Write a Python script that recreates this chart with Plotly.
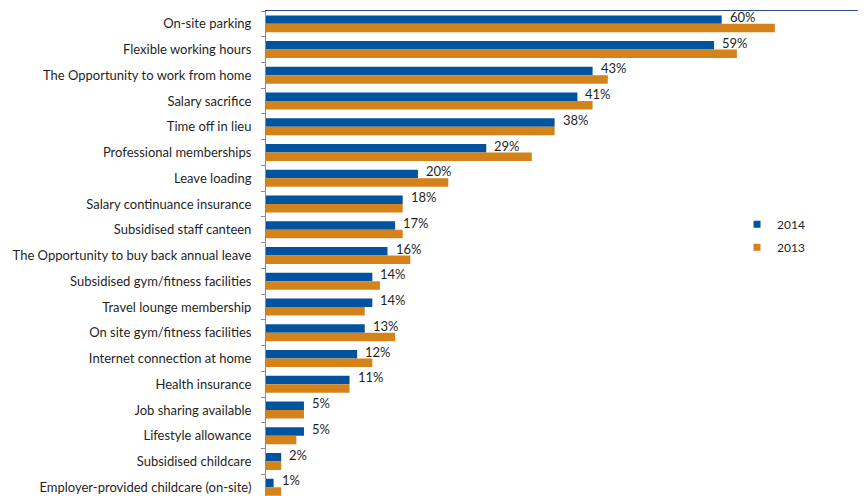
import plotly.graph_objects as go

categories = [
    "On-site parking",
    "Flexible working hours",
    "The Opportunity to work from home",
    "Salary sacrifice",
    "Time off in lieu",
    "Professional memberships",
    "Leave loading",
    "Salary continuance insurance",
    "Subsidised staff canteen",
    "The Opportunity to buy back annual leave",
    "Subsidised gym/fitness facilities",
    "Travel lounge membership",
    "On site gym/fitness facilities",
    "Internet connection at home",
    "Health insurance",
    "Job sharing available",
    "Lifestyle allowance",
    "Subsidised childcare",
    "Employer-provided childcare (on-site)",
]
values_2014 = [60, 59, 43, 41, 38, 29, 20, 18, 17, 16, 14, 14, 13, 12, 11, 5, 5, 2, 1]
values_2013 = [67, 62, 45, 43, 38, 35, 24, 18, 18, 19, 15, 13, 17, 14, 11, 5, 4, 2, 2]
series_names = ["2014", "2013"]

BLUE = "#00539f"
ORANGE = "#d4821a"
FONT = "Lato"
TEXT = "#1f1f1f"

fig = go.Figure()
fig.add_trace(go.Bar(
    name=series_names[0], y=categories, x=values_2014, orientation="h",
    marker=dict(color=BLUE, line=dict(width=0)),
    showlegend=False,
))
fig.add_trace(go.Bar(
    name=series_names[1], y=categories, x=values_2013, orientation="h",
    marker=dict(color=ORANGE, line=dict(width=0)),
    showlegend=False,
))
# legend entries with small square swatches
for nm, col, grp in [(series_names[0], BLUE, "a"), (series_names[1], ORANGE, "b")]:
    fig.add_trace(go.Scatter(
        name=nm, x=[None], y=[None], mode="markers",
        marker=dict(symbol="square", size=7, color=col),
        legendgroup=grp, showlegend=True,
    ))

# value labels for 2014, placed right of the blue bar and slightly raised
for cat, v in zip(categories, values_2014):
    fig.add_annotation(
        x=v, y=cat, text=f"{v}%", showarrow=False,
        xanchor="left", yanchor="middle", xshift=6, yshift=7,
        font=dict(family=FONT, size=13, color=TEXT),
    )

fig.update_layout(
    width=858, height=488,
    margin=dict(l=258, r=0, t=2.6, b=0),
    paper_bgcolor="white", plot_bgcolor="white",
    barmode="group", bargap=0.34, bargroupgap=0,
    font=dict(family=FONT, size=13, color=TEXT),
    showlegend=True,
    legend=dict(x=0.785, xanchor="left", y=0.59, yanchor="top",
                font=dict(family=FONT, size=12, color=TEXT),
                itemsizing="trace",
                tracegroupgap=4, bgcolor="rgba(0,0,0,0)"),
    xaxis=dict(range=[0, 79], side="top", showgrid=False, zeroline=False,
               showticklabels=False, ticks="", showline=True,
               linecolor="#2a4a8a", linewidth=1),
    yaxis=dict(type="category", categoryorder="array", categoryarray=categories,
               range=[18.34, -0.5], showgrid=False, zeroline=False,
               showline=True, linecolor="#8c8c8c", linewidth=1,
               ticks="outside", tickson="boundaries", ticklen=4, tickcolor="#8c8c8c",
               ticklabelstandoff=11,
               tickfont=dict(family=FONT, size=13, color=TEXT)),
)

fig.write_html("out.html")
